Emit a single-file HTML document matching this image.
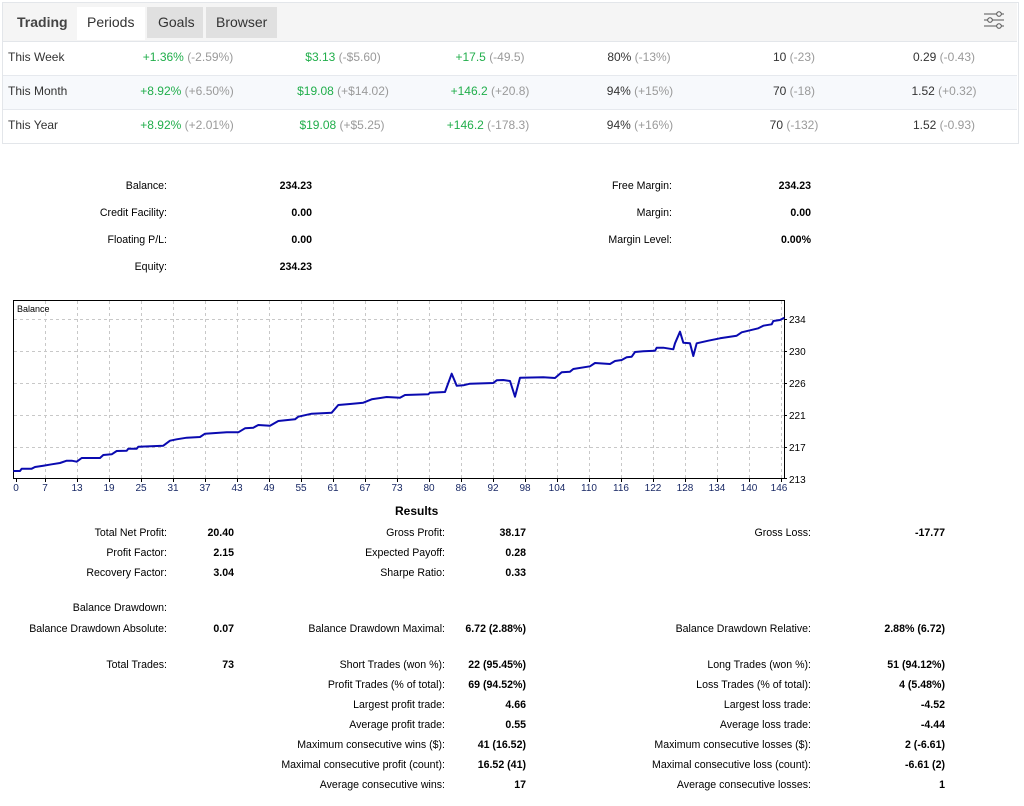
<!DOCTYPE html>
<html><head><meta charset="utf-8"><style>
body{margin:0;width:1024px;height:806px;background:#fff;position:relative;overflow:hidden;font-family:"Liberation Sans",sans-serif}
.a{position:absolute;white-space:nowrap;line-height:14px;font-size:10.6px;color:#000}
.b{font-weight:bold}
.t{position:absolute;font-size:12px;color:#333;white-space:nowrap;line-height:16px}
.g{color:#21ae4b}.gr{color:#9a9a9a}
.c{position:absolute;font-size:12px;white-space:nowrap;line-height:16px;transform:translateX(-50%);color:#333}
</style></head><body>
<div style="position:absolute;left:2px;top:2px;width:1015px;height:140px;border:1px solid #e3e6ea"></div>
<div style="position:absolute;left:3px;top:3px;width:1014px;height:38px;background:#f5f5f5;border-bottom:1px solid #e3e6ea"></div>
<div style="position:absolute;left:77px;top:7px;width:68px;height:33px;background:#fff"></div>
<div style="position:absolute;left:147px;top:7px;width:56px;height:31px;background:#e0e0e0"></div>
<div style="position:absolute;left:206px;top:7px;width:71px;height:31px;background:#e0e0e0"></div>
<div class="t" style="left:17px;top:14px;font-size:14px;font-weight:bold;color:#444">Trading</div>
<div class="t" style="left:87px;top:14px;font-size:14px">Periods</div>
<div class="t" style="left:158px;top:14px;font-size:14px">Goals</div>
<div class="t" style="left:216px;top:14px;font-size:14px">Browser</div>
<svg style="position:absolute;left:983px;top:10px" width="22" height="20"><g stroke="#555" fill="#f5f5f5" stroke-width="1"><line x1="1" y1="4" x2="21" y2="4"/><line x1="1" y1="10" x2="21" y2="10"/><line x1="1" y1="16" x2="21" y2="16"/><circle cx="16" cy="4" r="2.3"/><circle cx="7" cy="10" r="2.3"/><circle cx="16" cy="16" r="2.3"/></g></svg>
<div style="position:absolute;left:3px;top:75px;width:1014px;height:33px;background:#f7f9fc;border-top:1px solid #e6e9ee;border-bottom:1px solid #e6e9ee"></div>
<div class="t" style="left:8px;top:49px">This Week</div>
<div class="t" style="left:8px;top:83px">This Month</div>
<div class="t" style="left:8px;top:117px">This Year</div>
<div class="c" style="left:188px;top:49px"><span class="g">+1.36%</span> <span class="gr">(-2.59%)</span></div>
<div class="c" style="left:343px;top:49px"><span class="g">$3.13</span> <span class="gr">(-$5.60)</span></div>
<div class="c" style="left:490px;top:49px"><span class="g">+17.5</span> <span class="gr">(-49.5)</span></div>
<div class="c" style="left:639px;top:49px">80% <span class="gr">(-13%)</span></div>
<div class="c" style="left:794px;top:49px">10 <span class="gr">(-23)</span></div>
<div class="c" style="left:944px;top:49px">0.29 <span class="gr">(-0.43)</span></div>
<div class="c" style="left:187px;top:83px"><span class="g">+8.92%</span> <span class="gr">(+6.50%)</span></div>
<div class="c" style="left:343px;top:83px"><span class="g">$19.08</span> <span class="gr">(+$14.02)</span></div>
<div class="c" style="left:490px;top:83px"><span class="g">+146.2</span> <span class="gr">(+20.8)</span></div>
<div class="c" style="left:640px;top:83px">94% <span class="gr">(+15%)</span></div>
<div class="c" style="left:794px;top:83px">70 <span class="gr">(-18)</span></div>
<div class="c" style="left:944px;top:83px">1.52 <span class="gr">(+0.32)</span></div>
<div class="c" style="left:187px;top:117px"><span class="g">+8.92%</span> <span class="gr">(+2.01%)</span></div>
<div class="c" style="left:342px;top:117px"><span class="g">$19.08</span> <span class="gr">(+$5.25)</span></div>
<div class="c" style="left:488px;top:117px"><span class="g">+146.2</span> <span class="gr">(-178.3)</span></div>
<div class="c" style="left:640px;top:117px">94% <span class="gr">(+16%)</span></div>
<div class="c" style="left:794px;top:117px">70 <span class="gr">(-132)</span></div>
<div class="c" style="left:944px;top:117px">1.52 <span class="gr">(-0.93)</span></div>

<div class="a" style="right:857px;top:179px">Balance:</div><div class="a b" style="right:712px;top:179px">234.23</div>
<div class="a" style="right:857px;top:206px">Credit Facility:</div><div class="a b" style="right:712px;top:206px">0.00</div>
<div class="a" style="right:857px;top:233px">Floating P/L:</div><div class="a b" style="right:712px;top:233px">0.00</div>
<div class="a" style="right:857px;top:260px">Equity:</div><div class="a b" style="right:712px;top:260px">234.23</div>
<div class="a" style="right:352px;top:179px">Free Margin:</div><div class="a b" style="right:213px;top:179px">234.23</div>
<div class="a" style="right:352px;top:206px">Margin:</div><div class="a b" style="right:213px;top:206px">0.00</div>
<div class="a" style="right:352px;top:233px">Margin Level:</div><div class="a b" style="right:213px;top:233px">0.00%</div>

<svg style="position:absolute;left:0;top:0" width="1024" height="500" font-family="Liberation Sans, sans-serif" font-size="10">
<g stroke="#c8c8c8" stroke-dasharray="3,3" stroke-width="1">
<line x1="14" y1="319.5" x2="784" y2="319.5"/><line x1="14" y1="351.5" x2="784" y2="351.5"/><line x1="14" y1="383.5" x2="784" y2="383.5"/><line x1="14" y1="415.5" x2="784" y2="415.5"/><line x1="14" y1="447.5" x2="784" y2="447.5"/>
<path d="M45.5 301V479M77.5 301V479M109.5 301V479M141.5 301V479M173.5 301V479M205.5 301V479M237.5 301V479M269.5 301V479M301.5 301V479M333.5 301V479M365.5 301V479M397.5 301V479M429.5 301V479M461.5 301V479M493.5 301V479M525.5 301V479M557.5 301V479M589.5 301V479M621.5 301V479M653.5 301V479M685.5 301V479M717.5 301V479M749.5 301V479M781.5 301V479"/>
</g>
<rect x="13.5" y="300.5" width="771" height="178" fill="none" stroke="#000"/>
<path d="M784 319.5h3M784 351.5h3M784 383.5h3M784 415.5h3M784 447.5h3M784 478.5h3M16.5 479v3M45.5 479v3M77.5 479v3M109.5 479v3M141.5 479v3M173.5 479v3M205.5 479v3M237.5 479v3M269.5 479v3M301.5 479v3M333.5 479v3M365.5 479v3M397.5 479v3M429.5 479v3M461.5 479v3M493.5 479v3M525.5 479v3M557.5 479v3M589.5 479v3M621.5 479v3M653.5 479v3M685.5 479v3M717.5 479v3M749.5 479v3M781.5 479v3" stroke="#000"/>
<text x="17" y="312" font-size="9">Balance</text>
<g fill="#000"><text x="789" y="323">234</text><text x="789" y="355">230</text><text x="789" y="387">226</text><text x="789" y="419">221</text><text x="789" y="451">217</text><text x="789" y="483">213</text></g>
<g fill="#1a2a66" text-anchor="middle"><text x="16" y="491">0</text><text x="45" y="491">7</text><text x="77" y="491">13</text><text x="109" y="491">19</text><text x="141" y="491">25</text><text x="173" y="491">31</text><text x="205" y="491">37</text><text x="237" y="491">43</text><text x="269" y="491">49</text><text x="301" y="491">55</text><text x="333" y="491">61</text><text x="365" y="491">67</text><text x="397" y="491">73</text><text x="429" y="491">80</text><text x="461" y="491">86</text><text x="493" y="491">92</text><text x="525" y="491">98</text><text x="557" y="491">104</text><text x="589" y="491">110</text><text x="621" y="491">116</text><text x="653" y="491">122</text><text x="685" y="491">128</text><text x="717" y="491">134</text><text x="749" y="491">140</text><text x="779" y="491">146</text></g>
<polyline fill="none" stroke="#0a0ab0" stroke-width="2" stroke-linejoin="round" points="13.3,471 20,471 21.7,468.7 31.7,468.7 35,467 43.3,465.7 51.7,464.3 60,463 66.7,460.7 71.7,460.7 76.7,461.7 81.7,458 100,458 103.3,455 111.7,454.3 116.7,451 126.7,450.7 128.3,448.7 136.7,448.7 138.3,446.7 163.3,445.7 170,440.7 176.7,439.3 186.7,437.7 200,437 205,433.7 226.7,432.3 238.3,432.3 245,428.3 253.3,427.7 258.3,425 270,425.7 278.3,421 295,419.3 298.3,416.7 311.7,413.7 331.7,412.7 338.3,405 350,404 363.3,402.7 371.7,399.3 386.7,397 400,397.7 405,395 428.3,394.3 430,392.7 445,392 451.7,373.7 456.7,385.7 463.3,385.3 470,383.7 493.3,383 496.7,380.3 503.3,380 510,381 515,396.7 520,377.7 543.3,377.3 555,378 561.7,372.3 570,371.7 573.3,369 590,366.3 595,363 610,364 615,361 621.7,360 626.7,357.3 631.7,356.7 635,352 643.3,351.3 655,350.7 656.7,347.7 663.3,347.7 673.3,349.3 675,343.3 680,331.7 683.3,342.7 690,343.3 693.3,356 696.7,343.3 708.3,340.7 720,338.3 736.7,335.7 741.7,332.3 750,330.3 758.3,328.3 763.3,325.7 771.7,324.3 773.3,321 780,320 784.3,317.7"/>
</svg>

<div class="a b" style="left:395px;top:504px;font-size:12px">Results</div>
<div class="a" style="right:857px;top:526px">Total Net Profit:</div><div class="a b" style="right:790px;top:526px">20.40</div>
<div class="a" style="right:857px;top:546px">Profit Factor:</div><div class="a b" style="right:790px;top:546px">2.15</div>
<div class="a" style="right:857px;top:566px">Recovery Factor:</div><div class="a b" style="right:790px;top:566px">3.04</div>
<div class="a" style="right:857px;top:601px">Balance Drawdown:</div>
<div class="a" style="right:857px;top:622px">Balance Drawdown Absolute:</div><div class="a b" style="right:790px;top:622px">0.07</div>
<div class="a" style="right:857px;top:658px">Total Trades:</div><div class="a b" style="right:790px;top:658px">73</div>

<div class="a" style="right:579px;top:526px">Gross Profit:</div><div class="a b" style="right:498px;top:526px">38.17</div>
<div class="a" style="right:579px;top:546px">Expected Payoff:</div><div class="a b" style="right:498px;top:546px">0.28</div>
<div class="a" style="right:579px;top:566px">Sharpe Ratio:</div><div class="a b" style="right:498px;top:566px">0.33</div>
<div class="a" style="right:579px;top:622px">Balance Drawdown Maximal:</div><div class="a b" style="right:498px;top:622px">6.72 (2.88%)</div>
<div class="a" style="right:579px;top:658px">Short Trades (won %):</div><div class="a b" style="right:498px;top:658px">22 (95.45%)</div>
<div class="a" style="right:579px;top:678px">Profit Trades (% of total):</div><div class="a b" style="right:498px;top:678px">69 (94.52%)</div>
<div class="a" style="right:579px;top:698px">Largest profit trade:</div><div class="a b" style="right:498px;top:698px">4.66</div>
<div class="a" style="right:579px;top:718px">Average profit trade:</div><div class="a b" style="right:498px;top:718px">0.55</div>
<div class="a" style="right:579px;top:738px">Maximum consecutive wins ($):</div><div class="a b" style="right:498px;top:738px">41 (16.52)</div>
<div class="a" style="right:579px;top:758px">Maximal consecutive profit (count):</div><div class="a b" style="right:498px;top:758px">16.52 (41)</div>
<div class="a" style="right:579px;top:778px">Average consecutive wins:</div><div class="a b" style="right:498px;top:778px">17</div>

<div class="a" style="right:213px;top:526px">Gross Loss:</div><div class="a b" style="right:79px;top:526px">-17.77</div>
<div class="a" style="right:213px;top:622px">Balance Drawdown Relative:</div><div class="a b" style="right:79px;top:622px">2.88% (6.72)</div>
<div class="a" style="right:213px;top:658px">Long Trades (won %):</div><div class="a b" style="right:79px;top:658px">51 (94.12%)</div>
<div class="a" style="right:213px;top:678px">Loss Trades (% of total):</div><div class="a b" style="right:79px;top:678px">4 (5.48%)</div>
<div class="a" style="right:213px;top:698px">Largest loss trade:</div><div class="a b" style="right:79px;top:698px">-4.52</div>
<div class="a" style="right:213px;top:718px">Average loss trade:</div><div class="a b" style="right:79px;top:718px">-4.44</div>
<div class="a" style="right:213px;top:738px">Maximum consecutive losses ($):</div><div class="a b" style="right:79px;top:738px">2 (-6.61)</div>
<div class="a" style="right:213px;top:758px">Maximal consecutive loss (count):</div><div class="a b" style="right:79px;top:758px">-6.61 (2)</div>
<div class="a" style="right:213px;top:778px">Average consecutive losses:</div><div class="a b" style="right:79px;top:778px">1</div>
</body></html>
